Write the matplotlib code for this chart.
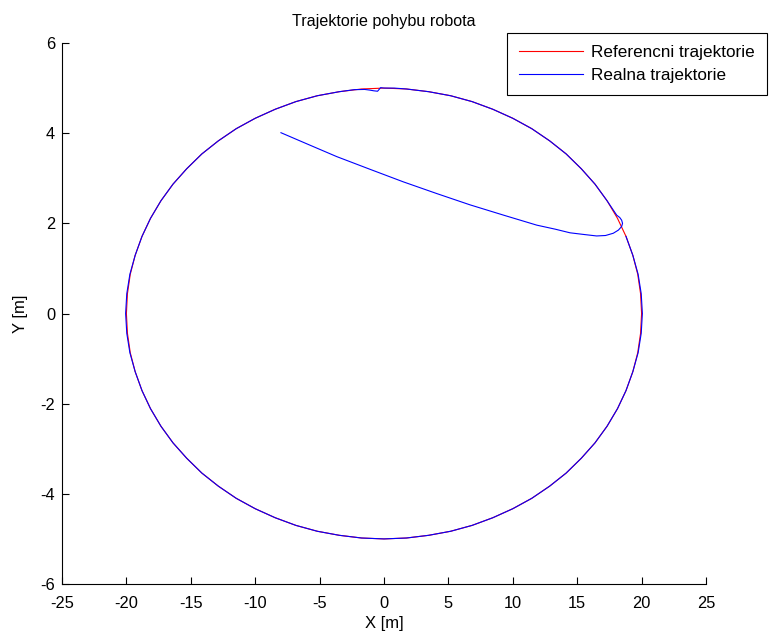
import matplotlib
matplotlib.use("Agg")
import matplotlib.pyplot as plt

plt.rcParams['font.family'] = ['Liberation Sans', 'DejaVu Sans']
plt.rcParams['axes.unicode_minus'] = False

# reference trajectory, ellipse every 5 degrees (counterclockwise from x=20)
ref_x = [20.0, 19.92, 19.70, 19.32, 18.79, 18.13, 17.32, 16.38, 15.32, 14.14,
         12.86, 11.47, 10.0, 8.45, 6.84, 5.18, 3.47, 1.74, 0.0,
         -1.74, -3.47, -5.18, -6.84, -8.45, -10.0, -11.47, -12.86, -14.14,
         -15.32, -16.38, -17.32, -18.13, -18.79, -19.32, -19.70, -19.92, -20.0,
         -19.92, -19.70, -19.32, -18.79, -18.13, -17.32, -16.38, -15.32, -14.14,
         -12.86, -11.47, -10.0, -8.45, -6.84, -5.18, -3.47, -1.74, 0.0,
         1.74, 3.47, 5.18, 6.84, 8.45, 10.0, 11.47, 12.86, 14.14,
         15.32, 16.38, 17.32, 18.13, 18.79, 19.32, 19.70, 19.92, 20.0]
ref_y = [0.0, 0.44, 0.87, 1.29, 1.71, 2.11, 2.50, 2.87, 3.21, 3.54,
         3.83, 4.10, 4.33, 4.53, 4.70, 4.83, 4.92, 4.98, 5.0,
         4.98, 4.92, 4.83, 4.70, 4.53, 4.33, 4.10, 3.83, 3.54,
         3.21, 2.87, 2.50, 2.11, 1.71, 1.29, 0.87, 0.44, 0.0,
         -0.44, -0.87, -1.29, -1.71, -2.11, -2.50, -2.87, -3.21, -3.54,
         -3.83, -4.10, -4.33, -4.53, -4.70, -4.83, -4.92, -4.98, -5.0,
         -4.98, -4.92, -4.83, -4.70, -4.53, -4.33, -4.10, -3.83, -3.54,
         -3.21, -2.87, -2.50, -2.11, -1.71, -1.29, -0.87, -0.44, 0.0]

# real trajectory: start transient with small loop, then following the ellipse
real_x = [-8.0, -5.8, -3.67, -1.1, 1.5, 4.1, 6.68, 9.3, 11.86, 13.3, 14.44,
          15.6, 16.51, 17.2, 17.8, 18.2, 18.45, 18.52, 18.45, 18.3, 18.07,
          17.32, 16.38, 15.32, 14.14, 12.86, 11.47, 10.0, 8.45, 6.84, 5.18,
          3.47, 1.74, 0.8, 0.0, -0.26, -0.5, -0.8, -1.1, -1.5, -2.3,
          -3.47, -5.18, -6.84, -8.45, -10.0, -11.47, -12.86, -14.14,
          -15.32, -16.38, -17.32, -18.13, -18.79, -19.32, -19.73, -19.97, -20.06,
          -19.97, -19.73, -19.32, -18.79, -18.13, -17.32, -16.38, -15.32, -14.14,
          -12.86, -11.47, -10.0, -8.45, -6.84, -5.18, -3.47, -1.74, 0.0,
          1.74, 3.47, 5.18, 6.84, 8.45, 10.0, 11.47, 12.86, 14.14,
          15.32, 16.38, 17.32, 18.13, 18.79, 19.32, 19.73, 19.97, 20.06,
          19.97, 19.73, 19.32, 18.79]
real_y = [4.01, 3.74, 3.48, 3.20, 2.92, 2.66, 2.41, 2.18, 1.96, 1.87, 1.79,
          1.75, 1.72, 1.73, 1.78, 1.85, 1.93, 2.00, 2.07, 2.13, 2.18,
          2.50, 2.87, 3.21, 3.54, 3.83, 4.10, 4.33, 4.53, 4.70, 4.83,
          4.92, 4.98, 5.0, 5.0, 5.01, 4.93, 4.94, 4.955, 4.97, 4.965,
          4.92, 4.83, 4.70, 4.53, 4.33, 4.10, 3.83, 3.54,
          3.21, 2.87, 2.50, 2.11, 1.71, 1.29, 0.87, 0.44, 0.0,
          -0.44, -0.87, -1.29, -1.71, -2.11, -2.50, -2.87, -3.21, -3.54,
          -3.83, -4.10, -4.33, -4.53, -4.70, -4.83, -4.92, -4.98, -5.0,
          -4.98, -4.92, -4.83, -4.70, -4.53, -4.33, -4.10, -3.83, -3.54,
          -3.21, -2.87, -2.50, -2.11, -1.71, -1.29, -0.87, -0.44, 0.0,
          0.44, 0.87, 1.29, 1.71]

x_ticks = [-25, -20, -15, -10, -5, 0, 5, 10, 15, 20, 25]
y_ticks = [-6, -4, -2, 0, 2, 4, 6]

fig = plt.figure(figsize=(7.7, 6.35), dpi=100)
ax = fig.add_axes([62 / 770, 1 - 584 / 635, 644 / 770, 541 / 635])

ax.plot(ref_x, ref_y, color=(1, 0, 0), lw=0.8, label='Referencni trajektorie')
ax.plot(real_x, real_y, color=(0, 0, 1), lw=0.8, label='Realna trajektorie')

ax.set_xlim(-25, 25)
ax.set_ylim(-6, 6)
ax.set_xticks(x_ticks)
ax.set_yticks(y_ticks)
ax.tick_params(direction='in', length=5, width=0.8, labelsize=11.8,
               top=False, right=False)
ax.tick_params(axis='x', pad=8.5)
ax.tick_params(axis='y', pad=5)
for s in ['top', 'right']:
    ax.spines[s].set_visible(False)
for s in ['left', 'bottom']:
    ax.spines[s].set_linewidth(0.8)

ax.set_xlabel('X [m]', fontsize=12, labelpad=4)
ax.set_ylabel('Y [m]', fontsize=12, labelpad=9)
ax.set_title('Trajektorie pohybu robota', fontsize=11.6, pad=12)

leg = ax.legend(loc='upper right', bbox_to_anchor=(767 / 770, 1 - 33 / 635),
                bbox_transform=fig.transFigure, fontsize=12.3, fancybox=False,
                edgecolor='black', framealpha=1, handlelength=3.75,
                handletextpad=0.5, labelspacing=0.45, borderpad=0.7,
                borderaxespad=0)
leg.get_frame().set_linewidth(0.8)

fig.savefig('out.png', dpi=100)
